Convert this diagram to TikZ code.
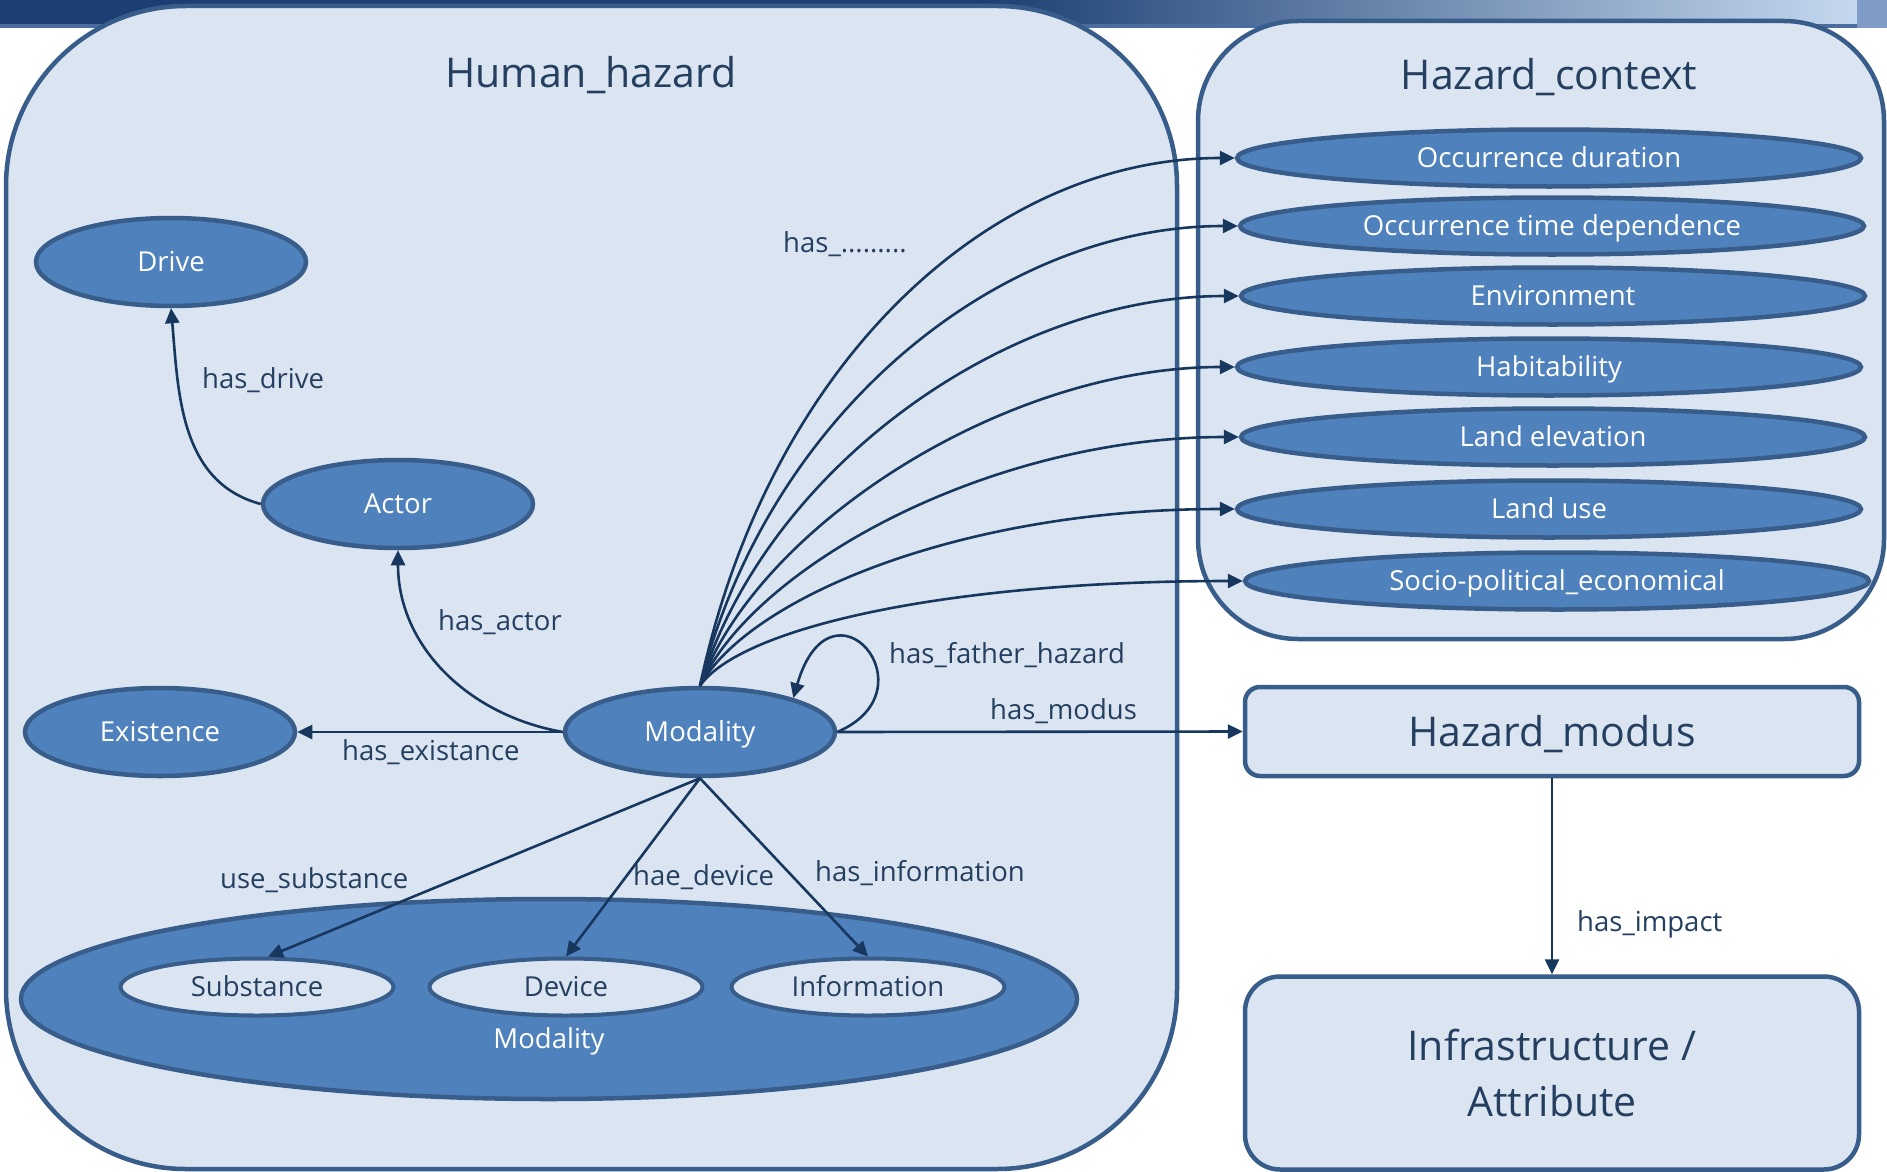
\documentclass[tikz,border=0pt]{standalone}
\usepackage{fontspec}
\setmainfont{Open Sans}
\usetikzlibrary{shapes.geometric,arrows.meta}

\definecolor{paneFill}{HTML}{DBE5F1}
\definecolor{paneLine}{HTML}{385D8A}
\definecolor{nodeFill}{HTML}{4F81BD}
\definecolor{linkCol}{HTML}{17375E}
\definecolor{textCol}{HTML}{243F60}
\definecolor{bandDark}{HTML}{1B3F72}
\definecolor{bandLight}{HTML}{C5D8EF}
\definecolor{bandEdge}{HTML}{7F9CC6}
\definecolor{bandRule}{HTML}{4A6C9E}

\newcommand\hzTitle{\fontsize{41}{56}\selectfont}
\newcommand\hzText{\fontsize{27.5}{33}\selectfont}

\tikzset{
  hzpane/.style={rectangle, draw=paneLine, fill=paneFill, line width=4.5pt, inner sep=0pt},
  hzclass/.style={ellipse, draw=paneLine, fill=nodeFill, line width=4.5pt, text=white,
    font=\hzText, inner sep=0pt, text height=19.6pt, text depth=0pt,
    minimum width=270pt, minimum height=88pt},
  hzctx/.style={hzclass, minimum width=624pt, minimum height=57pt},
  hzsub/.style={hzclass, fill=paneFill, text=textCol, line width=4pt,
    minimum width=273pt, minimum height=57pt},
  hzbox/.style={rectangle, rounded corners=15pt, draw=paneLine, fill=paneFill,
    line width=4.5pt, text=textCol, font=\hzTitle, minimum width=614pt, align=center},
  hzlink/.style={draw=linkCol, line width=2.6pt, -{Triangle[length=15pt,width=14pt]}},
  hzlbl/.style={text=textCol, font=\hzText, inner sep=0pt, anchor=base west},
  hzttl/.style={text=textCol, font=\hzTitle, inner sep=0pt, anchor=base},
}

\begin{document}
\begin{tikzpicture}[x=1pt,y=1pt]
\useasboundingbox (0,0) rectangle (1887,-1172);
\fill[white] (0,0) rectangle (1887,-1172);

% title band along the top edge
\fill[bandDark] (0,0) rectangle (980,-25);
\shade[left color=bandDark, right color=bandLight] (980,0) rectangle (1857,-25);
\fill[bandRule] (0,-24) rectangle (1857,-28);
\fill[bandEdge] (1857,0) rectangle (1887,-28);

% the two panels
\node[hzpane, rounded corners=180pt, minimum width=1171pt, minimum height=1163pt] (human) at (591.5,-587.5) {};
\node[hzpane, rounded corners=100pt, minimum width=686pt, minimum height=618pt] (context) at (1541,-330) {};
\node[hzttl] (humanT) at (591,-87) {Human\_hazard};
\node[hzttl] (contextT) at (1549,-89) {Hazard\_context};

% classes of the human hazard
\node[hzclass] (drive) at (171,-262) {Drive};
\node[hzclass] (actor) at (398,-504) {Actor};
\node[hzclass] (exist) at (160,-732) {Existence};
\node[hzclass] (mod) at (700,-732) {Modality};

% modality group
\node[hzclass, minimum width=1056pt, minimum height=200pt] (modset) at (549,-999) {};
\node[hzttl, font=\hzText, text=white] (modsetT) at (549,-1048) {Modality};
\node[hzsub] (subst) at (257,-987) {Substance};
\node[hzsub] (device) at (566,-987) {Device};
\node[hzsub] (info) at (868,-987) {Information};

% context classes
\node[hzctx] (c1) at (1549,-158) {Occurrence duration};
\node[hzctx] (c2) at (1552,-226) {Occurrence time dependence};
\node[hzctx] (c3) at (1553,-296) {Environment};
\node[hzctx] (c4) at (1549,-367) {Habitability};
\node[hzctx] (c5) at (1553,-437) {Land elevation};
\node[hzctx] (c6) at (1549,-509) {Land use};
\node[hzctx] (c7) at (1557,-581) {Socio-political\_economical};

% modus and impact
\node[hzbox, minimum height=89pt, text height=30pt, text depth=0pt] (modus) at (1552,-731.5) {Hazard\_modus};
\node[hzbox, rounded corners=35pt, minimum height=193pt] (infra) at (1552,-1073) {Infrastructure /\\Attribute};

% relations
\draw[hzlink] (actor.west) to[out=165,in=-85] (drive.south);
\draw[hzlink] (mod.west) to[out=170,in=-90] (actor.south);
\draw[hzlink] (mod.west) -- (exist.east);
\draw[hzlink] (mod.east) -- (modus.west);
\draw[hzlink] (mod.east) .. controls +(98,42) and +(38,130) .. (mod.20);
\draw[hzlink] (modus.south) -- (infra.north);
\draw[hzlink] (mod.south) -- (subst.70);
\draw[hzlink] (mod.south) -- (device.north);
\draw[hzlink] (mod.south) -- (info.north);
\foreach \t/\a/\l/\b in {c1/78/330/245, c2/76/280/240, c3/73/225/235, c4/70/170/230,
                         c5/66/130/250, c6/61/100/275, c7/55/70/300}
  \draw[hzlink] (mod.north) .. controls +(\a:\l) and +(-\b,0) .. (\t.west);

% relation labels
\node[hzlbl] (lDrive) at (202,-388) {has\_drive};
\node[hzlbl] (lActor) at (438,-630) {has\_actor};
\node[hzlbl] (lExist) at (342,-760) {has\_existance};
\node[hzlbl] (lFather) at (889,-663) {has\_father\_hazard};
\node[hzlbl] (lModus) at (990,-719) {has\_modus};
\node[hzlbl] (lSubst) at (220,-888) {use\_substance};
\node[hzlbl] (lDevice) at (633,-885) {hae\_device};
\node[hzlbl] (lInfo) at (815,-881) {has\_information};
\node[hzlbl] (lMany) at (783,-252) {has\_.........};
\node[hzlbl] (lImpact) at (1577,-931) {has\_impact};
\end{tikzpicture}
\end{document}
